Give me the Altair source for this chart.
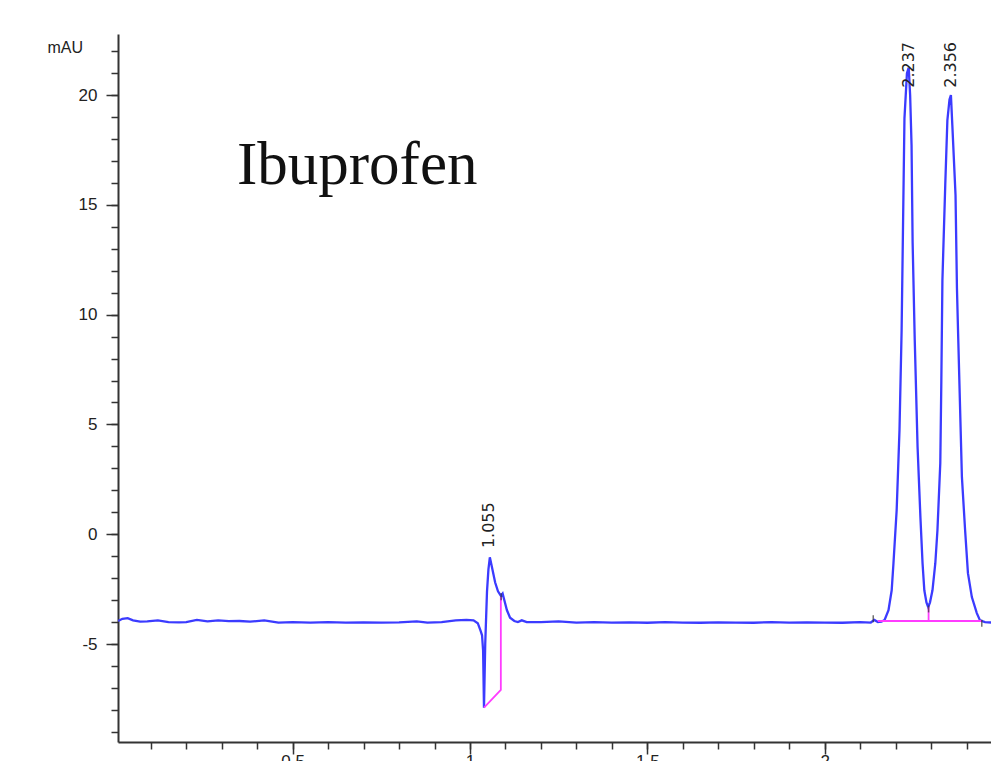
import altair as alt
import pandas as pd

# ---- chromatogram trace (retention time in min, signal in mAU) ----
time_min = [0.008, 0.02, 0.035, 0.05, 0.07, 0.09, 0.12, 0.15, 0.18, 0.2, 0.23, 0.26, 0.29, 0.32,
            0.35, 0.38, 0.42, 0.46, 0.5, 0.55, 0.6, 0.65, 0.7, 0.75, 0.8, 0.85, 0.88, 0.92, 0.96,
            0.99, 1.01, 1.022, 1.030, 1.034, 1.037, 1.0395, 1.043, 1.048, 1.052, 1.056, 1.062,
            1.071, 1.079, 1.087, 1.092, 1.096, 1.104, 1.113, 1.125, 1.135, 1.146, 1.16, 1.2, 1.25,
            1.3, 1.35, 1.4, 1.45, 1.5, 1.55, 1.6, 1.65, 1.7, 1.75, 1.8, 1.85, 1.9, 1.95, 2.0, 2.05,
            2.1, 2.13, 2.14, 2.15, 2.16, 2.169, 2.180, 2.189, 2.194, 2.203, 2.211, 2.217, 2.225,
            2.232, 2.237, 2.241, 2.245, 2.248, 2.254, 2.262, 2.270, 2.276, 2.281, 2.287, 2.292,
            2.297, 2.304, 2.312, 2.318, 2.326, 2.329, 2.332, 2.340, 2.346, 2.352, 2.356, 2.360,
            2.369, 2.373, 2.376, 2.387, 2.396, 2.404, 2.415, 2.429, 2.438, 2.452, 2.47, 2.50, 2.54]
signal_mau = [-3.95, -3.85, -3.82, -3.92, -3.98, -3.97, -3.92, -4.00, -4.01, -4.0, -3.9, -3.97,
              -3.92, -3.96, -3.95, -3.98, -3.92, -4.02, -4.0, -4.02, -4.0, -4.02, -4.01, -4.02,
              -4.01, -3.97, -4.02, -4.0, -3.92, -3.9, -3.92, -4.05, -4.4, -4.6, -5.3, -7.9, -5.0,
              -2.6, -1.6, -1.05, -1.5, -2.2, -2.6, -2.8, -2.7, -2.95, -3.45, -3.8, -3.95, -4.0,
              -3.92, -4.0, -4.0, -3.97, -4.02, -4.0, -4.02, -4.01, -4.03, -4.0, -4.02, -4.03,
              -4.01, -4.02, -4.03, -4.0, -4.02, -4.01, -4.02, -4.03, -4.0, -4.02, -3.9, -4.0,
              -3.98, -3.9, -3.46, -2.55, -1.32, 1.09, 4.74, 9.29, 18.94, 21.0, 21.25, 20.0, 17.72,
              13.30, 8.84, 3.96, 0.77, -1.32, -2.55, -3.1, -3.32, -3.1, -2.55, -1.32, 0.18, 3.23,
              7.0, 11.57, 15.89, 18.85, 19.8, 20.0, 18.62, 15.44, 11.2, 9.3, 2.60, 0.18, -1.77,
              -2.86, -3.59, -3.92, -4.0, -4.02, -4.0, -4.0]

# ---- integration baselines (pink) ----
base_seg = [1, 1, 1, 2, 2, 3, 3]
base_order = [0, 1, 2, 0, 1, 0, 1]
base_time = [1.0395, 1.087, 1.087, 2.150, 2.443, 2.293, 2.293]
base_mau = [-7.9, -7.09, -2.86, -3.95, -3.95, -3.95, -3.32]

# ---- integration event markers ----
mark_time = [1.088, 2.137, 2.293, 2.443]
mark_mau = [-2.85, -3.85, -3.4, -4.05]

# ---- peak labels ----
peak_label = ["1.055", "2.237", "2.356"]
peak_time = [1.055, 2.237, 2.356]
peak_label_mau = [-0.63, 20.33, 20.33]

# ---- compound name ----
name_text = ["Ibuprofen"]
name_time = [0.343]
name_mau = [15.95]

# ---- axis ticks ----
x_major = [0.5, 1, 1.5, 2, 2.5]
x_minor = [0.1, 0.2, 0.3, 0.4, 0.5, 0.6, 0.7, 0.8, 0.9, 1.0, 1.1, 1.2, 1.3, 1.4, 1.5, 1.6,
           1.7, 1.8, 1.9, 2.0, 2.1, 2.2, 2.3, 2.4, 2.5]
y_major = [-5, 0, 5, 10, 15, 20]
y_minor = [-9, -8, -7, -6, -5, -4, -3, -2, -1, 0, 1, 2, 3, 4, 5, 6, 7, 8, 9, 10, 11, 12, 13,
           14, 15, 16, 17, 18, 19, 20, 21, 22]
x_domain = [0.0076, 2.469]
y_domain = [-9.46, 22.78]

trace = pd.DataFrame({"t": time_min, "v": signal_mau})
base = pd.DataFrame({"seg": base_seg, "o": base_order, "t": base_time, "v": base_mau})
marks = pd.DataFrame({"t": mark_time, "v": mark_mau})
peaks = pd.DataFrame({"label": peak_label, "t": peak_time, "v": peak_label_mau})
name = pd.DataFrame({"label": name_text, "t": name_time, "v": name_mau})

xs = alt.Scale(domain=x_domain, nice=False, zero=False)
ys = alt.Scale(domain=y_domain, nice=False, zero=False)
AX = "#333333"
LF = "Liberation Sans"

x_axis_major = alt.Axis(orient="bottom", values=x_major, labelExpr="'' + datum.value",
                        tickSize=12, tickWidth=1.5, tickColor=AX, domainColor=AX,
                        domainWidth=2, labelFont=LF, labelFontSize=17, labelColor="#222222",
                        labelPadding=-1, grid=False, title=None, labelFlush=False)
y_axis_major = alt.Axis(orient="left", values=y_major, labelExpr="'' + datum.value",
                        tickSize=12, tickWidth=1.5, tickColor=AX, domainColor=AX,
                        domainWidth=2, labelFont=LF, labelFontSize=17, labelColor="#222222",
                        labelPadding=9, grid=False, title="mAU", titleAngle=0,
                        titleAlign="left", titleBaseline="middle", titleX=-71, titleY=13,
                        titleFont=LF, titleFontSize=16, titleFontWeight="normal",
                        titleColor="#222222", labelFlush=False)
x_axis_minor = alt.Axis(orient="bottom", values=x_minor, labels=False, domain=False,
                        tickSize=7, tickWidth=1.5, tickColor=AX, grid=False, title=None)
y_axis_minor = alt.Axis(orient="left", values=y_minor, labels=False, domain=False,
                        tickSize=7, tickWidth=1.5, tickColor=AX, grid=False, title=None)

line = alt.Chart(trace).mark_line(color="#3b3bff", strokeWidth=2.3, clip=True).encode(
    x=alt.X("t:Q", scale=xs, axis=x_axis_major),
    y=alt.Y("v:Q", scale=ys, axis=y_axis_major),
)

pink = alt.Chart(base).mark_line(color="#ff3cff", strokeWidth=1.8, clip=True).encode(
    x=alt.X("t:Q", scale=xs, axis=x_axis_minor),
    y=alt.Y("v:Q", scale=ys, axis=y_axis_minor),
    detail="seg:N",
    order="o:Q",
)

ticks = alt.Chart(marks).mark_tick(orient="vertical", size=7, thickness=1.5,
                                   color="#333333").encode(
    x=alt.X("t:Q", scale=xs, axis=None),
    y=alt.Y("v:Q", scale=ys, axis=None),
)

labels = alt.Chart(peaks).mark_text(angle=270, align="left", baseline="middle",
                                    font="DejaVu Sans", fontSize=16, color="#222222").encode(
    x=alt.X("t:Q", scale=xs, axis=None),
    y=alt.Y("v:Q", scale=ys, axis=None),
    text="label:N",
)

title_txt = alt.Chart(name).mark_text(align="left", baseline="alphabetic",
                                      font="Liberation Serif", fontSize=61,
                                      color="#111111").encode(
    x=alt.X("t:Q", scale=xs, axis=None),
    y=alt.Y("v:Q", scale=ys, axis=None),
    text="label:N",
)

chart = alt.layer(line, pink, ticks, labels, title_txt).resolve_axis(
    x="independent", y="independent"
).properties(
    width=873, height=708,
    padding={"left": 110, "top": 26, "right": 0, "bottom": 19},
    autosize=alt.AutoSizeParams(type="none"),
    background="white",
).configure_view(stroke=None)

chart.save("out.html", embed_options={"renderer": "svg", "actions": False})
